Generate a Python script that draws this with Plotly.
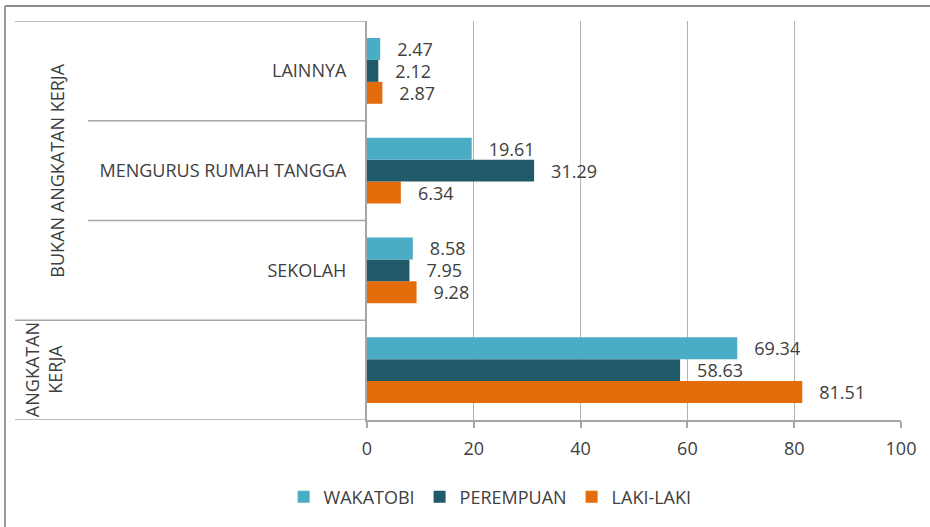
import plotly.graph_objects as go

# ---- data ----
category_ids = ["AK", "SEKOLAH", "MENGURUS", "LAINNYA"]          # bottom -> top
category_labels = ["", "SEKOLAH", "MENGURUS RUMAH TANGGA", "LAINNYA"]
group_labels = ["ANGKATAN<br>KERJA", "BUKAN ANGKATAN KERJA"]

wakatobi = [69.34, 8.58, 19.61, 2.47]
perempuan = [58.63, 7.95, 31.29, 2.12]
laki_laki = [81.51, 9.28, 6.34, 2.87]

x_ticks = [0, 20, 40, 60, 80, 100]

# ---- style ----
FONT = "Open Sans"
FS = 18
TXT = "#404040"
C_WAK = "#4BACC6"
C_PER = "#215A69"
C_LAK = "#E46C0A"
GRID = "#b3b3b3"
SEP = "#a6a6a6"

fig = go.Figure()
series = [("LAKI-LAKI", laki_laki, C_LAK), ("PEREMPUAN", perempuan, C_PER), ("WAKATOBI", wakatobi, C_WAK)]
for name, vals, col in series:
    fig.add_trace(go.Bar(
        name=name, y=category_ids, x=vals, orientation="h",
        marker=dict(color=col, line=dict(width=0)),
        text=vals, texttemplate="\u00a0\u00a0\u00a0%{x:.2f}", textposition="outside",
        textfont=dict(family=FONT, size=FS, color=TXT),
        constraintext="none", cliponaxis=False,
        hoverinfo="x+name",
    ))

shapes = []
# outer chart frame (top and left)
shapes.append(dict(type="line", xref="paper", yref="paper", x0=-0.678, x1=1.08, y0=1.0376, y1=1.0376,
                   line=dict(color="#8c8c8c", width=2)))
shapes.append(dict(type="line", xref="paper", yref="paper", x0=-0.6779, x1=-0.6779, y0=1.0376, y1=-0.4,
                   line=dict(color="#9a9a9a", width=2)))
# category separators (left of plot)
for yv, xpx in [(3.5, -352), (2.5, -279), (1.5, -279), (0.5, -352), (-0.5, -352)]:
    shapes.append(dict(type="line", xref="paper", yref="y", xsizemode="pixel", xanchor=0,
                       x0=xpx, x1=0, y0=yv, y1=yv, line=dict(color=SEP, width=1.3)))

annotations = []
# group labels (rotated)
annotations.append(dict(text=group_labels[1], xref="paper", x=0, xshift=-310, yref="y", y=2,
                        textangle=-90, showarrow=False, xanchor="center", yanchor="middle",
                        font=dict(family=FONT, size=FS, color=TXT)))
annotations.append(dict(text=group_labels[0], xref="paper", x=0, xshift=-324, yref="y", y=0,
                        textangle=-90, showarrow=False, xanchor="center", yanchor="middle",
                        font=dict(family=FONT, size=FS, color=TXT)))

fig.update_layout(
    width=930, height=527,
    margin=dict(l=367, r=29, t=21, b=107),
    paper_bgcolor="white", plot_bgcolor="white",
    barmode="group", bargap=0.34, bargroupgap=0,
    font=dict(family=FONT, size=FS, color=TXT),
    showlegend=True,
    legend=dict(orientation="h", traceorder="reversed", xref="container", yref="container",
                x=0.527, xanchor="center", y=0.057, yanchor="middle",
                font=dict(family=FONT, size=FS, color=TXT), itemclick=False),
    xaxis=dict(range=[0, 100], tickvals=x_ticks, ticktext=[str(v) for v in x_ticks],
               showgrid=True, gridcolor=GRID, gridwidth=1.3, zeroline=False,
               showline=True, linecolor=SEP, linewidth=2,
               ticks="outside", ticklen=6, tickcolor=SEP, tickwidth=2,
               ticklabelstandoff=5, tickfont=dict(family=FONT, size=FS, color=TXT)),
    yaxis=dict(type="category", categoryorder="array", categoryarray=category_ids,
               tickvals=category_ids, ticktext=category_labels, range=[-0.5, 3.5],
               showgrid=False, zeroline=False, showline=True, linecolor=SEP, linewidth=2,
               ticks="", ticklabelstandoff=15, tickfont=dict(family=FONT, size=FS, color=TXT)),
    shapes=shapes, annotations=annotations,
)

fig.write_html("out.html", config={"displayModeBar": False},
               post_script="document.body.style.margin='0';")
